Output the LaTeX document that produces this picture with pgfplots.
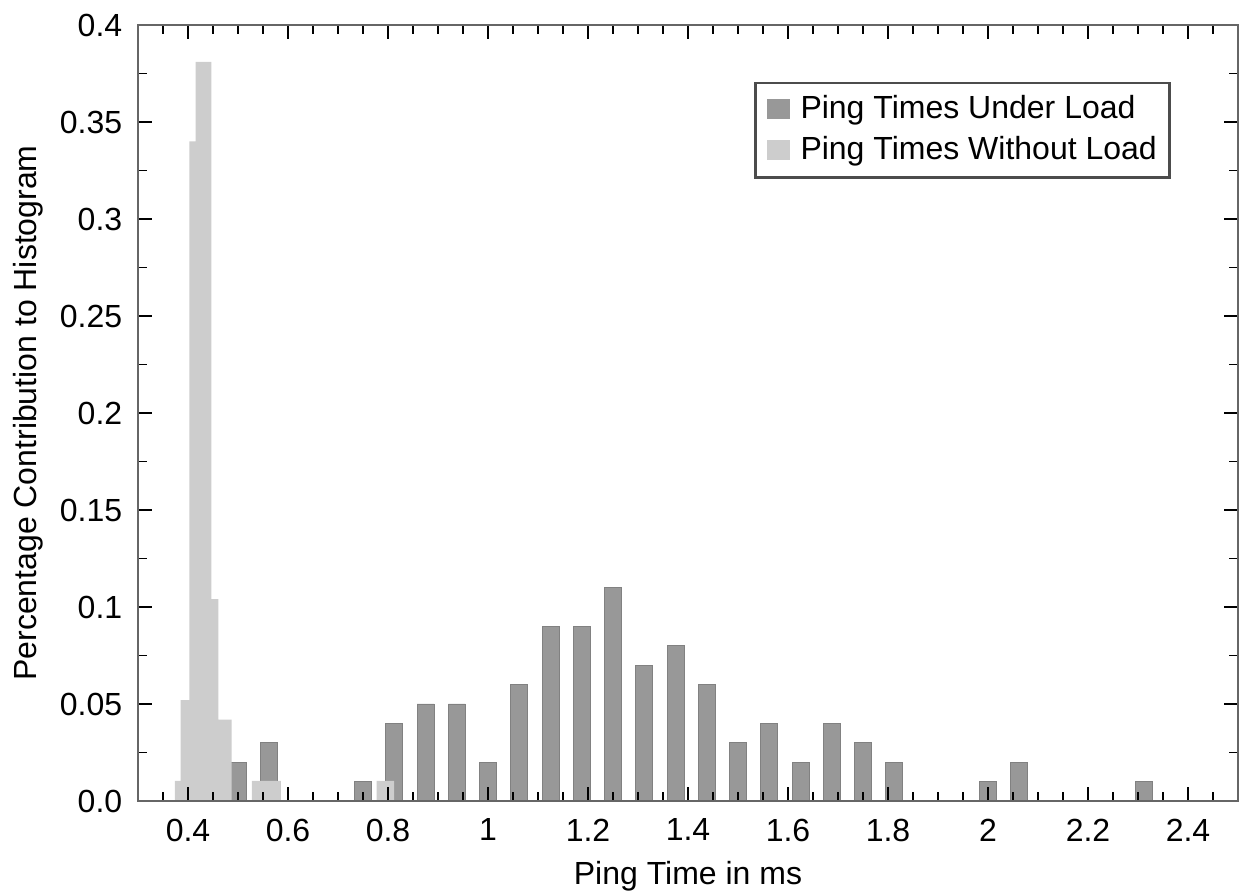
\documentclass[border=0pt]{standalone}
\usepackage{fontspec}
\setmainfont{Liberation Sans}
\usepackage{pgfplots}
\pgfplotsset{compat=1.18}
\definecolor{loadgray}{RGB}{152,152,152}
\definecolor{idlegray}{RGB}{205,205,205}

\begin{document}
\begin{tikzpicture}
\useasboundingbox (-43.125pt,-28.44pt) rectangle (344.06pt,250.31pt);
\begin{axis}[
    at={(0pt,0pt)}, anchor=south west,
    scale only axis,
    width=343.75pt, height=242.5pt,
    xmin=0.3, xmax=2.5,
    ymin=0, ymax=0.4,
    axis on top,
    tick align=inside,
    xtick pos=both, ytick pos=both,
    xtick={0.4,0.6,0.8,1,1.2,1.4,1.6,1.8,2,2.2,2.4},
    xticklabels={0.4,0.6,0.8,1,1.2,1.4,1.6,1.8,2,2.2,2.4},
    minor xtick={0.35,0.45,0.5,0.55,0.65,0.7,0.75,0.85,0.9,0.95,1.05,1.1,1.15,1.25,1.3,1.35,1.45,1.5,1.55,1.65,1.7,1.75,1.85,1.9,1.95,2.05,2.1,2.15,2.25,2.3,2.35,2.45},
    ytick={0,0.05,0.1,0.15,0.2,0.25,0.3,0.35,0.4},
    yticklabels={0.0,0.05,0.1,0.15,0.2,0.25,0.3,0.35,0.4},
    minor ytick={0.025,0.075,0.125,0.175,0.225,0.275,0.325,0.375},
    major tick length=4.5pt,
    minor tick length=2.8pt,
    tick style={black, line width=0.6pt},
    axis line style={draw=black!60, line width=0.7pt},
    xticklabel style={yshift=-2pt},
    yticklabel style={xshift=-1.4pt},
    xlabel={Ping Time in ms},
    ylabel={Percentage Contribution to Histogram},
    xlabel style={at={(axis description cs:0.5,-0.0775)}, anchor=north, inner sep=0pt},
    ylabel style={at={(axis description cs:-0.1136,0.5)}, anchor=north, inner sep=0pt},
    legend style={at={(axis description cs:0.939,0.927)}, anchor=north east,
        draw=black!70, line width=0.8pt, fill=white,
        inner xsep=2pt, inner ysep=2pt, row sep=0pt},
    legend cell align=left,
    legend image code/.code={
        \path[draw=none, fill=none] (-1.6pt,0pt) -- (8.45pt,0pt);
        \fill[#1, draw=none] (0pt,-2.9pt) rectangle (7.2pt,3.3pt);},
]
% Ping Times Under Load
\addplot[ybar, bar width=0.034, bar shift=0pt, fill=loadgray, draw=loadgray!85!black, line width=0.3pt]
coordinates {
    (0.5,0.02) (0.5625,0.03) (0.75,0.01) (0.8125,0.04) (0.875,0.05)
    (0.9375,0.05) (1.0,0.02) (1.0625,0.06) (1.125,0.09) (1.1875,0.09)
    (1.25,0.11) (1.3125,0.07) (1.375,0.08) (1.4375,0.06) (1.5,0.03)
    (1.5625,0.04) (1.625,0.02) (1.6875,0.04) (1.75,0.03) (1.8125,0.02)
    (2.0,0.01) (2.0625,0.02) (2.3125,0.01)
};
\addlegendentry{Ping Times Under Load}
% Ping Times Without Load
\addplot[ybar interval, fill=idlegray, draw=none]
coordinates {
    (0.374,0.0104) (0.3854,0.052) (0.403,0.34) (0.4154,0.381)
    (0.447,0.104) (0.4606,0.042) (0.4874,0) (0.528,0.0104)
    (0.586,0) (0.7774,0.0104) (0.812,0)
};
\addlegendentry{Ping Times Without Load}
\end{axis}
\end{tikzpicture}
\end{document}
